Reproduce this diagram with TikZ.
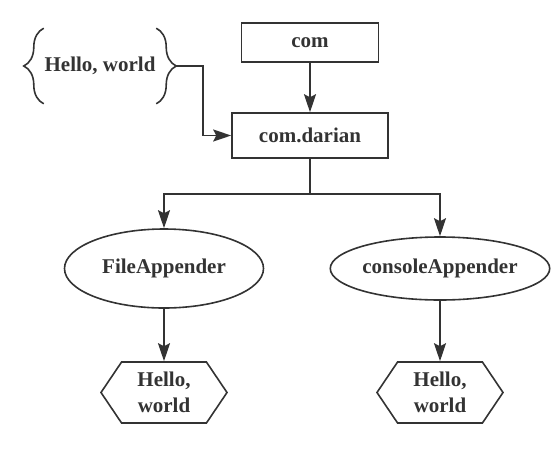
\documentclass[tikz,border=0pt]{standalone}
\usepackage{fontspec}
\setmainfont{Liberation Serif}
\usetikzlibrary{arrows.meta,shapes.geometric,shapes.symbols,decorations.pathreplacing}
\definecolor{ink}{HTML}{333333}

\begin{document}
\begin{tikzpicture}[
	every node/.style={draw=ink, line width=1.6pt, text=ink, font=\fontsize{21}{26}\selectfont\bfseries, align=center},
	box/.style={rectangle, minimum width=137pt, minimum height=39pt},
	oval/.style={ellipse, inner sep=0pt},
	hexa/.style={signal, signal to=west and east, signal pointer angle=112, minimum width=126pt, minimum height=61pt, inner sep=0pt},
	link/.style={draw=ink, line width=1.8pt, -{Stealth[length=18pt,width=12pt,inset=3pt]}},
	edge from parent/.style={link},
	grow=down,
	level 1/.style={level distance=93pt},
	level 2/.style={level distance=133pt, sibling distance=276pt,
		every child node/.style={xshift=-8pt},
		edge from parent path={(\tikzparentnode.south) -- ++(0,-35pt) -| (\tikzchildnode.north)}},
	level 3/.style={level distance=124pt,
		every child node/.style={},
		edge from parent path={(\tikzparentnode.south) -- (\tikzchildnode.north)}},
]
\useasboundingbox (0,0) rectangle (557pt,-451pt);
\node[box] (com) at (310pt,-42.5pt) {com}
	child {node[box, minimum width=156pt, minimum height=45pt] (darian) {com.darian}
		child {node[oval, minimum width=199pt, minimum height=79pt] (file) {FileAppender}
			child {node[hexa] (filehello) {Hello,\\world}}
		}
		child {node[oval, minimum width=211pt, minimum height=63pt] (console) {consoleAppender}
			child {node[hexa] (consolehello) {Hello,\\world}}
		}
	};
% the brace note on the left
\node[draw=none, inner sep=0pt, minimum height=74pt] (hw) at (100pt,-66pt) {Hello, world};
\draw[ink, line width=1.6pt, decorate, decoration={brace, amplitude=20pt}] (hw.south west) -- (hw.north west);
\draw[ink, line width=1.6pt, decorate, decoration={brace, amplitude=20pt}] (hw.north east) -- (hw.south east);
\coordinate (hwtip) at ([xshift=20pt]hw.east);
\draw[link] (hwtip) -- ++(27pt,0) |- (darian.west);
\end{tikzpicture}
\end{document}
